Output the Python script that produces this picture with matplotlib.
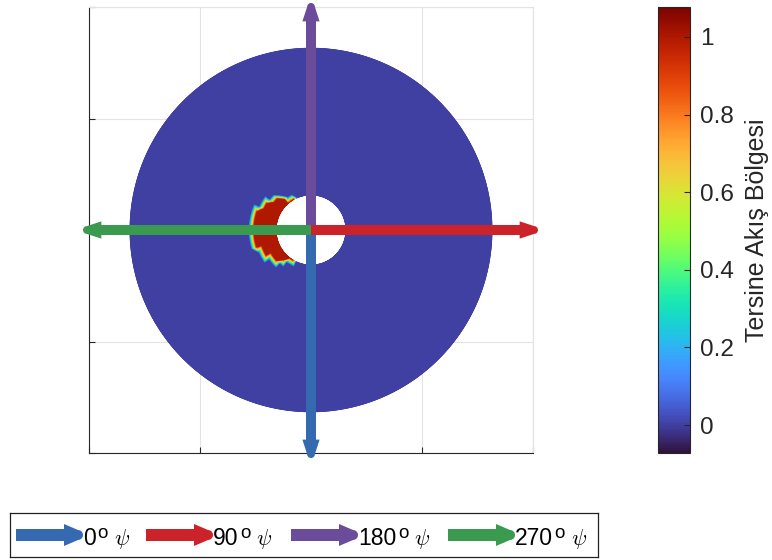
import numpy as np
import matplotlib
matplotlib.use("Agg")
import matplotlib.pyplot as plt
import matplotlib.tri as mtri
from matplotlib.patches import Polygon

plt.rcParams['font.family'] = ['Liberation Sans', 'DejaVu Sans']
plt.rcParams['mathtext.fontset'] = 'cm'

# ---- data ----
outer_radius = 1.63
hole_radius = 0.315
# reverse-flow (crescent) boundary radius vs angle (deg)
edge_angles = [118, 124, 130, 135, 140, 145, 150, 160, 170, 180, 190, 200, 210, 215, 220, 225, 230, 236, 242]
edge_radii = [0.315, 0.34, 0.37, 0.40, 0.43, 0.46, 0.49, 0.53, 0.55, 0.555, 0.55, 0.53, 0.49, 0.46, 0.43, 0.40, 0.37, 0.34, 0.315]
inside_value = 1.0
outside_value = 0.0
clim = [-0.072, 1.077]
cbar_ticks = [0, 0.2, 0.4, 0.6, 0.8, 1]
cbar_ticklabels = ['0', '0.2', '0.4', '0.6', '0.8', '1']
cbar_label = 'Tersine Akış Bölgesi'
axis_ticks = [-2, -1, 0, 1, 2]

arrow_angles = [270, 0, 90, 180]      # blue, red, purple, green directions
arrow_lengths = [2.045, 2.045, 2.036, 2.054]
arrow_colors = ['#3569B0', '#CC2229', '#6A4C9A', '#3A9A4F']
legend_numbers = ['0', '90', '180', '270']


def arrow_poly(x0, y0, x1, y1, sw, hw, hl, tw):
    p0 = np.array([x0, y0], float)
    p1 = np.array([x1, y1], float)
    d = p1 - p0
    d /= np.hypot(*d)
    n = np.array([-d[1], d[0]])
    hb = p1 - d * hl
    tc = p1 - d * (tw / 2)
    pts = [p0 + n * sw / 2, hb + n * sw / 2, hb + n * hw / 2, tc + n * tw / 2]
    ang0 = np.arctan2(n[1], n[0])
    for a in np.linspace(0, np.pi, 15)[1:-1]:
        ang = ang0 - a
        pts.append(tc + (tw / 2) * np.array([np.cos(ang), np.sin(ang)]))
    pts += [tc - n * tw / 2, hb - n * hw / 2, hb - n * sw / 2, p0 - n * sw / 2]
    return np.array(pts)


fig = plt.figure(figsize=(7.72, 5.6), dpi=100)
ax = fig.add_axes([89 / 772, 1 - 453 / 560, 444 / 772, 446 / 560])

# coarse polar "solver" mesh of the annulus (nodal values)
r_nodes = np.concatenate([np.linspace(hole_radius, 0.815, 11), np.linspace(0.87, outer_radius, 14)])
th_deg = np.arange(0, 360, 6)
R, TH = np.meshgrid(r_nodes, th_deg)
edge_at = np.interp(TH, edge_angles, edge_radii, left=0, right=0)
C = np.where(R <= edge_at + 1e-9, inside_value, outside_value)

# linear interpolation of nodal values (in r-theta space, periodic) onto a fine grid
TH_ext = np.vstack([TH, TH[:1] + 360])
R_ext = np.vstack([R, R[:1]])
C_ext = np.vstack([C, C[:1]])
tri = mtri.Triangulation(TH_ext.ravel(), R_ext.ravel())
interp = mtri.LinearTriInterpolator(tri, C_ext.ravel())
r_f = np.linspace(hole_radius, outer_radius, 300)
th_f = np.linspace(0, 360, 721)
RF, THF = np.meshgrid(r_f, th_f)
CF = np.asarray(interp(THF, RF).filled(0.0))
XF = RF * np.cos(np.deg2rad(THF))
YF = RF * np.sin(np.deg2rad(THF))

cmap = plt.get_cmap('turbo')
mesh = ax.pcolormesh(XF, YF, CF, cmap=cmap, vmin=clim[0], vmax=clim[1], shading='gouraud',
                     zorder=1, rasterized=True)

ax.set_xlim(-2, 2)
ax.set_ylim(-2, 2)
ax.set_xticks(axis_ticks)
ax.set_yticks(axis_ticks)
ax.set_xticklabels([])
ax.set_yticklabels([])
ax.tick_params(direction='in', length=4, width=0.8, color='#262626')
ax.grid(True, color='#e3e3e3', lw=0.8, zorder=0)
ax.set_axisbelow(True)
for s in ['left', 'bottom']:
    ax.spines[s].set_color('#262626')
    ax.spines[s].set_linewidth(0.8)
for s in ['top', 'right']:
    ax.spines[s].set_color('#e3e3e3')
    ax.spines[s].set_linewidth(0.8)

# flow-direction arrows
order = [0, 2, 3, 1]
for i in order:
    a = np.deg2rad(arrow_angles[i])
    L = arrow_lengths[i]
    pts = arrow_poly(0, 0, L * np.cos(a), L * np.sin(a), 0.09, 0.155, 0.165, 0.07)
    ax.add_patch(Polygon(pts, closed=True, facecolor=arrow_colors[i], edgecolor='none',
                         zorder=3, clip_on=False))

# colorbar
cax = fig.add_axes([658 / 772, 1 - 453 / 560, 32 / 772, 446 / 560])
cb = fig.colorbar(mesh, cax=cax)
cb.set_ticks(cbar_ticks)
cb.set_ticklabels(cbar_ticklabels)
cb.ax.tick_params(direction='in', length=4, width=0.8, color='#262626', labelsize=17.5,
                  labelcolor='#262626', pad=7)
cb.outline.set_edgecolor('#262626')
cb.outline.set_linewidth(0.8)
cb.set_label(cbar_label, fontsize=18, color='#262626', labelpad=8)

# legend box
lax = fig.add_axes([10 / 772, 1 - 557 / 560, 588 / 772, 44 / 560])
lax.set_xlim(0, 588)
lax.set_ylim(0, 44)
lax.set_xticks([])
lax.set_yticks([])
for s in lax.spines.values():
    s.set_color('#222222')
    s.set_linewidth(0.9)
renderer = fig.canvas.get_renderer()
inv = lax.transData.inverted()
leg_x = [6, 136, 281, 438]
baseline = 12
for i in range(4):
    x0 = leg_x[i]
    pts = arrow_poly(x0, 22, x0 + 67, 22, 12, 22, 19, 10)
    lax.add_patch(Polygon(pts, closed=True, facecolor=arrow_colors[i], edgecolor='none'))
    t = lax.text(x0 + 67, baseline, legend_numbers[i], fontsize=16.5, va='baseline', ha='left',
                 color='black')
    bb = t.get_window_extent(renderer)
    xe = inv.transform((bb.x1, bb.y1))[0]
    t2 = lax.text(xe + 1.5, baseline + 7.5, 'o', fontsize=13.5, va='baseline', ha='left',
                  color='black')
    bb2 = t2.get_window_extent(renderer)
    xe2 = inv.transform((bb2.x1, bb2.y1))[0]
    lax.text(xe2 + 6, baseline, r'$\psi$', fontsize=16, va='baseline', ha='left', color='black')

fig.savefig('out.png', dpi=100)
